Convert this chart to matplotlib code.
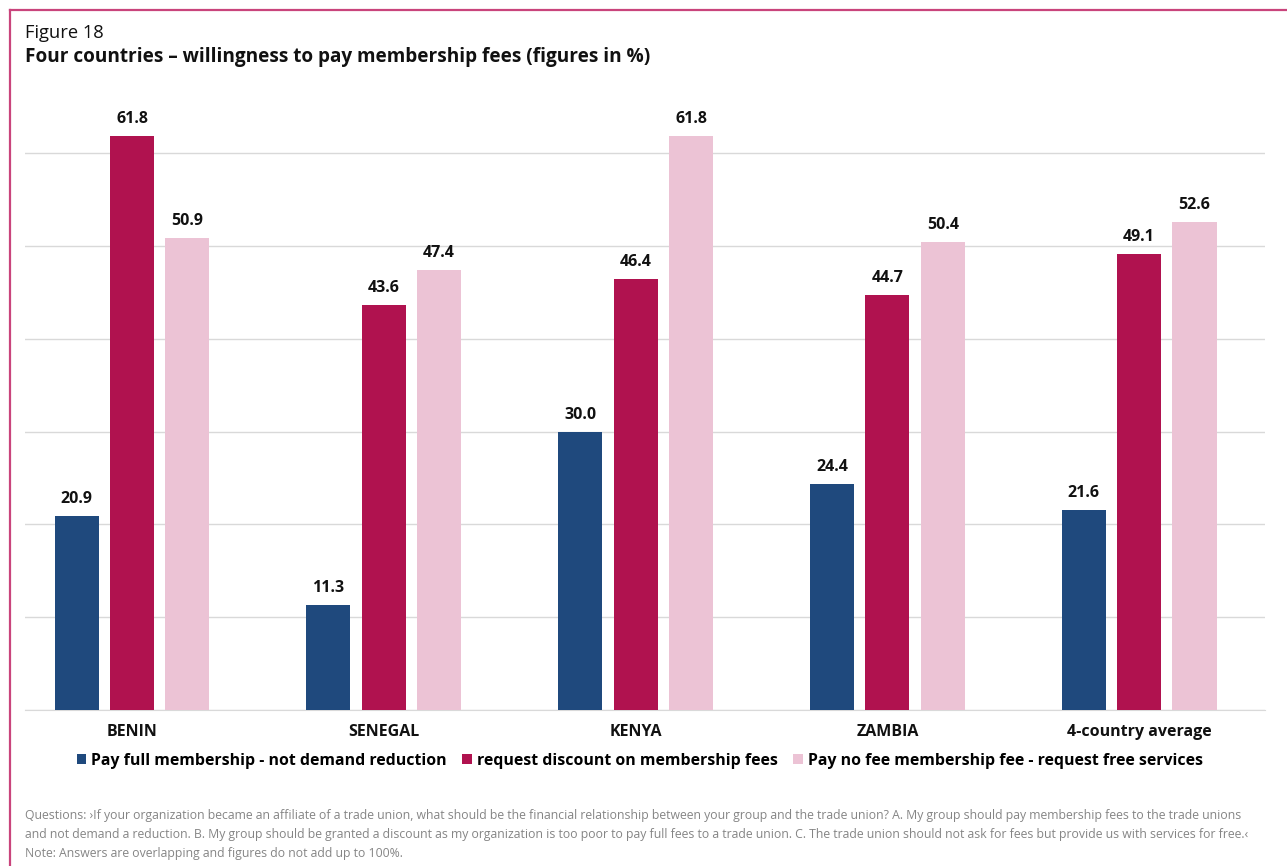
import matplotlib.pyplot as plt
import numpy as np
from matplotlib.patches import Patch
from matplotlib.lines import Line2D

plt.rcParams['font.family'] = ['Open Sans', 'DejaVu Sans']

# data
categorias = ['BENIN', 'SENEGAL', 'KENYA', 'ZAMBIA', '4-country average']
pagar_total = [20.9, 11.3, 30.0, 24.4, 21.6]
pedir_desconto = [61.8, 43.6, 46.4, 44.7, 49.1]
sem_taxa = [50.9, 47.4, 61.8, 50.4, 52.6]
series_nomes = ['Pay full membership - not demand reduction',
                'request discount on membership fees',
                'Pay no fee membership fee - request free services']

cores = ['#1f497d', '#b0124f', '#ecc3d5']
borda = '#c9447c'

fig = plt.figure(figsize=(12.87, 8.66), dpi=100)
ax = fig.add_axes([25 / 1287, 1 - 710 / 866, 1240 / 1287, (710 - 106.8) / 866])

x = np.arange(len(categorias))
largura = 0.175
passo = 0.22
for i, (vals, cor) in enumerate(zip([pagar_total, pedir_desconto, sem_taxa], cores)):
    barras = ax.bar(x + (i - 1) * passo, vals, largura, color=cor, zorder=3)
    for b, v in zip(barras, vals):
        ax.annotate(f'{v:.1f}', (b.get_x() + b.get_width() / 2, v),
                    xytext=(0, 6.5), textcoords='offset points',
                    ha='center', va='bottom', fontsize=11.5, fontweight='bold',
                    color='#111111')

ax.set_ylim(0, 65)
ax.set_xlim(-0.425, 4.5)
ax.set_yticks(np.arange(0, 61, 10))
ax.yaxis.grid(True, color='#d9d9d9', linewidth=1)
ax.tick_params(axis='y', left=False, labelleft=False)
ax.tick_params(axis='x', length=0, pad=10)
ax.set_xticks(x)
ax.set_xticklabels(categorias, fontsize=11.5, fontweight='bold', color='#111111')
for s in ['top', 'right', 'left']:
    ax.spines[s].set_visible(False)
ax.spines['bottom'].set_color('#d9d9d9')
ax.set_axisbelow(True)

# legenda
handles = [Patch(facecolor=c, edgecolor='none') for c in cores]
fig.legend(handles, series_nomes, loc='center', bbox_to_anchor=(0.497, 1 - 761 / 866),
           ncol=3, frameon=False, handlelength=0.6, handleheight=0.6,
           handletextpad=0.3, columnspacing=1.0,
           prop={'weight': 'bold', 'size': 11.4})

# titulos
fig.text(25 / 1287, 1 - 33 / 866, 'Figure 18', fontsize=13.2, va='center', color='#111111')
fig.text(25 / 1287, 1 - 57 / 866, 'Four countries – willingness to pay membership fees (figures in %)',
         fontsize=13.7, fontweight='bold', va='center', color='#111111')

# nota de rodape
nota = ['Questions: \u203aIf your organization became an affiliate of a trade union, what should be the financial relationship between your group and the trade union? A. My group should pay membership fees to the trade unions',
        'and not demand a reduction. B. My group should be granted a discount as my organization is too poor to pay full fees to a trade union. C. The trade union should not ask for fees but provide us with services for free.\u2039',
        'Note: Answers are overlapping and figures do not add up to 100%.']
for k, linha in enumerate(nota):
    fig.text(25 / 1287, 1 - (815 + k * 19.5) / 866, linha, fontsize=8.85, color='#858585', va='center')

# moldura
fig.add_artist(Line2D([9.5 / 1287, 9.5 / 1287], [0, 1 - 10 / 866], color=borda, lw=1.6))
fig.add_artist(Line2D([9.5 / 1287, 1], [1 - 10 / 866, 1 - 10 / 866], color=borda, lw=1.6))

fig.savefig('out.png', dpi=100)
